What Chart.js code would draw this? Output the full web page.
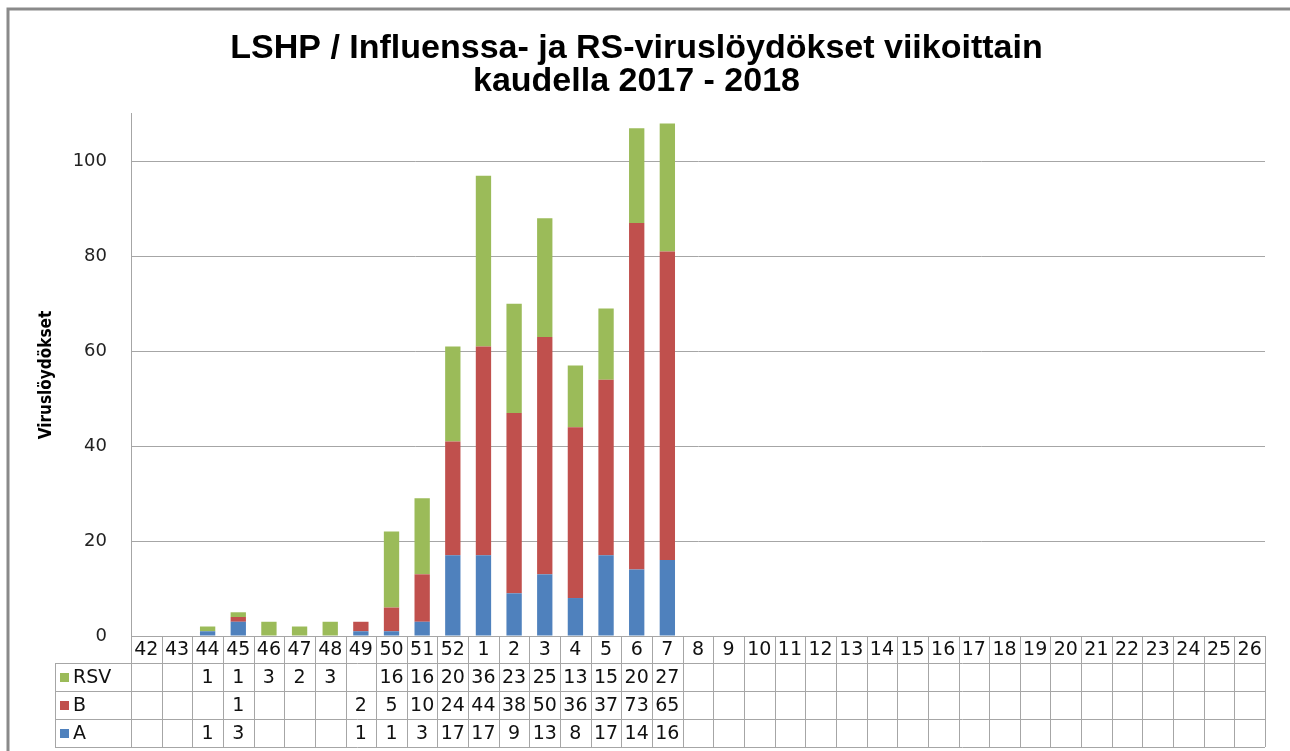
<!DOCTYPE html>
<html>
<head>
<meta charset="utf-8">
<script src="https://cdn.jsdelivr.net/npm/chart.js@4"></script>
<style>
  html, body { margin: 0; padding: 0; background: #fff; }
  #wrap { width: 1290px; height: 751px; }
</style>
</head>
<body>
<div id="wrap"><canvas id="virusChart" width="1290" height="751"></canvas></div>
<script>
// week numbers for the 2017-2018 season
const weeks = ['42','43','44','45','46','47','48','49','50','51','52',
  '1','2','3','4','5','6','7','8','9','10','11','12','13','14','15','16',
  '17','18','19','20','21','22','23','24','25','26'];

const valuesA = [null,null,1,3,null,null,null,1,1,3,17,17,9,13,8,17,14,16];
const valuesB = [null,null,null,1,null,null,null,2,5,10,24,44,38,50,36,37,73,65];
const valuesRSV = [null,null,1,1,3,2,3,null,16,16,20,36,23,25,13,15,20,27];

const yTicks = [0, 20, 40, 60, 80, 100];

const colA = '#4f81bd';
const colB = '#c0504d';
const colRSV = '#9bbb59';
const gridCol = '#a6a6a6';

// draws the data table under the plot, columns follow the x scale
const tablePlugin = {
  id: 'dataTable',
  beforeDraw(chart) {
    const ctx = chart.ctx;
    ctx.save();
    ctx.strokeStyle = '#8a8a8a';
    ctx.lineWidth = 3;
    ctx.beginPath();
    ctx.moveTo(8, 751);
    ctx.lineTo(8, 9);
    ctx.lineTo(1290, 9);
    ctx.stroke();
    ctx.restore();
  },
  afterDraw(chart) {
    const { ctx, chartArea, scales: { x } } = chart;
    const half = (x.getPixelForValue(1) - x.getPixelForValue(0)) / 2;
    const left = chartArea.left, right = chartArea.right;
    const top = chartArea.bottom;
    const headH = 27, rowH = 28;
    const legendLeft = 55;
    const bottom = top + headH + rowH * 3;

    const rows = [
      { name: 'RSV', color: colRSV, data: valuesRSV },
      { name: 'B', color: colB, data: valuesB },
      { name: 'A', color: colA, data: valuesA }
    ];

    ctx.save();
    ctx.strokeStyle = gridCol;
    ctx.lineWidth = 1;
    ctx.beginPath();
    // horizontal lines
    ctx.moveTo(left, top + 0.5); ctx.lineTo(right, top + 0.5);
    for (let r = 0; r <= 3; r++) {
      const yy = Math.round(top + headH + r * rowH) + 0.5;
      ctx.moveTo(legendLeft, yy); ctx.lineTo(right, yy);
    }
    // vertical lines
    for (let i = 0; i <= weeks.length; i++) {
      const xx = Math.round(x.getPixelForValue(i) - half) + 0.5;
      ctx.moveTo(xx, top); ctx.lineTo(xx, bottom);
    }
    ctx.moveTo(legendLeft + 0.5, top + headH); ctx.lineTo(legendLeft + 0.5, bottom);
    ctx.stroke();

    ctx.fillStyle = '#111';
    ctx.font = '19px "DejaVu Sans", sans-serif';
    ctx.textAlign = 'center';
    ctx.textBaseline = 'middle';
    weeks.forEach((w, i) => {
      ctx.fillText(w, x.getPixelForValue(i), top + headH / 2 + 1);
    });

    rows.forEach((row, r) => {
      const cy = top + headH + r * rowH + rowH / 2 + 1;
      ctx.fillStyle = row.color;
      ctx.fillRect(60, cy - 5, 9, 9);
      ctx.fillStyle = '#111';
      ctx.textAlign = 'left';
      ctx.fillText(row.name, 73, cy);
      ctx.textAlign = 'center';
      row.data.forEach((v, i) => {
        if (v !== null && v !== undefined) {
          ctx.fillText(String(v), x.getPixelForValue(i), cy);
        }
      });
    });
    ctx.restore();
  }
};

const ctx = document.getElementById('virusChart').getContext('2d');
new Chart(ctx, {
  type: 'bar',
  data: {
    labels: weeks,
    datasets: [
      { label: 'A', data: valuesA, backgroundColor: colA },
      { label: 'B', data: valuesB, backgroundColor: colB },
      { label: 'RSV', data: valuesRSV, backgroundColor: colRSV }
    ]
  },
  options: {
    responsive: false,
    animation: false,
    layout: { padding: { left: 8, right: 25, top: 9, bottom: 0 } },
    datasets: {
      bar: { barPercentage: 0.5, categoryPercentage: 1 }
    },
    plugins: {
      legend: { display: false },
      tooltip: { enabled: false },
      title: {
        display: true,
        text: ['LSHP / Influenssa- ja RS-viruslöydökset viikoittain', 'kaudella 2017 - 2018'],
        color: '#000',
        font: { family: '"Liberation Sans", Arial, sans-serif', size: 34, weight: 'bold', lineHeight: 0.97 },
        padding: { top: 23, bottom: 16 }
      }
    },
    scales: {
      x: {
        stacked: true,
        ticks: { display: false },
        grid: { display: false, drawTicks: false },
        border: { display: false },
        afterFit(scale) { scale.height = 115; }
      },
      y: {
        stacked: true,
        min: 0,
        max: 110,
        ticks: {
          stepSize: 20,
          includeBounds: false,
          padding: 24,
          color: '#222',
          font: { family: '"DejaVu Sans", sans-serif', size: 18 },
          callback: v => yTicks.includes(v) ? String(v) : ''
        },
        grid: { color: gridCol, drawTicks: false },
        border: { color: gridCol },
        title: {
          display: true,
          text: 'Viruslöydökset',
          color: '#000',
          font: { family: '"Liberation Sans Narrow", "DejaVu Sans Condensed", sans-serif', size: 17, weight: 'bold' },
          padding: { top: 28 }
        },
        afterFit(scale) { scale.width = 123; }
      }
    }
  },
  plugins: [tablePlugin]
});
</script>
</body>
</html>
